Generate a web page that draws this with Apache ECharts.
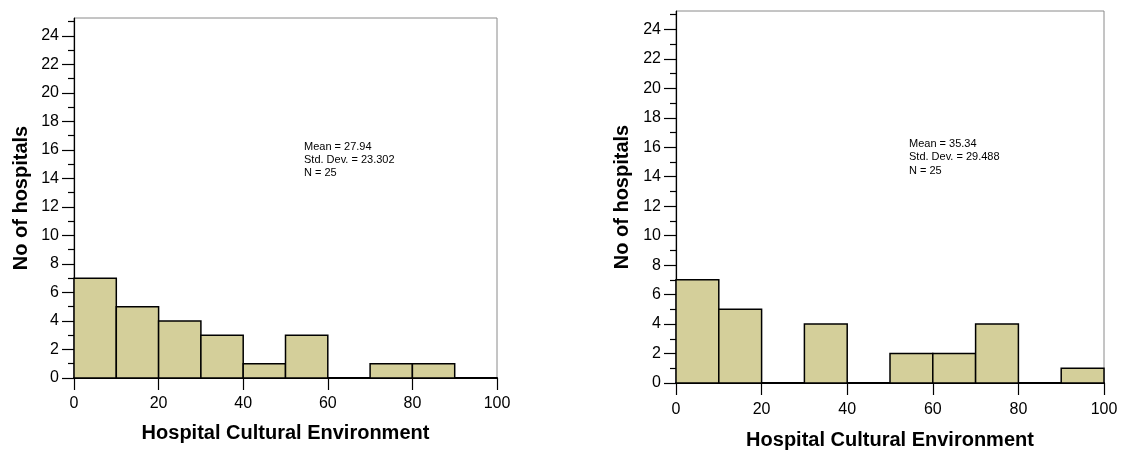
<!DOCTYPE html>
<html>
<head>
<meta charset="utf-8">
<script src="https://cdn.jsdelivr.net/npm/echarts@6/dist/echarts.min.js"></script>
<style>
html,body{margin:0;padding:0;background:#fff;}
#c{width:1134px;height:450px;}
</style>
</head>
<body>
<div id="c"></div>
<script>
// ---- data ----
const binEdges = [0, 10, 20, 30, 40, 50, 60, 70, 80, 90, 100];
const countsLeft = [7, 5, 4, 3, 1, 3, 0, 1, 1, 0];
const countsRight = [7, 5, 0, 4, 0, 2, 2, 4, 0, 1];
const statsLeft = ['Mean = 27.94', 'Std. Dev. = 23.302', 'N = 25'];
const statsRight = ['Mean = 35.34', 'Std. Dev. = 29.488', 'N = 25'];
const xTicks = [0, 20, 40, 60, 80, 100];
const yMajorTicks = [0, 2, 4, 6, 8, 10, 12, 14, 16, 18, 20, 22, 24];
const yMinorTicks = [1, 3, 5, 7, 9, 11, 13, 15, 17, 19, 21, 23, 25];
const xTitle = 'Hospital Cultural Environment';
const yTitle = 'No of hospitals';

const FONT = '"Liberation Sans", Arial, sans-serif';
const FILL = '#d4cf9a';

function binsData(counts) {
  return counts.map((c, i) => [binEdges[i], binEdges[i + 1], c]);
}

function renderBin(params, api) {
  const lo = api.value(0), hi = api.value(1), c = api.value(2);
  if (!c) return null;
  const p1 = api.coord([lo, c]);
  const p2 = api.coord([hi, 0]);
  return {
    type: 'rect',
    shape: { x: p1[0], y: p1[1], width: p2[0] - p1[0], height: p2[1] - p1[1] },
    style: { fill: FILL, stroke: '#000', lineWidth: 1.5 }
  };
}

const grids = [
  { left: 74, right: 637, top: 18, bottom: 72 },
  { left: 676, right: 30, top: 11, bottom: 67 }
];

function xAxisFor(gi, labelMargin, nameGap) {
  return {
    type: 'value', gridIndex: gi, min: 0, max: 100, interval: 20,
    name: xTitle, nameLocation: 'middle', nameGap: nameGap,
    nameTextStyle: { fontFamily: FONT, fontSize: 20, fontWeight: 'bold', color: '#000' },
    axisLine: { show: true, onZero: false, lineStyle: { color: '#000', width: 2 } },
    axisTick: { show: true, length: 12, lineStyle: { color: '#000', width: 1.2 }, customValues: xTicks },
    axisLabel: { margin: labelMargin, fontFamily: FONT, fontSize: 16, color: '#000', customValues: xTicks },
    splitLine: { show: false }
  };
}

function yAxesFor(gi, nameGap) {
  return [
    {
      type: 'value', gridIndex: gi, min: 0, max: 25.25, interval: 1, position: 'left',
      name: yTitle, nameLocation: 'middle', nameGap: nameGap,
      nameTextStyle: { fontFamily: FONT, fontSize: 20, fontWeight: 'bold', color: '#000' },
      axisLine: { show: true, lineStyle: { color: '#000', width: 1.2 } },
      axisTick: { show: true, length: 12, lineStyle: { color: '#000', width: 1.2 }, customValues: yMajorTicks },
      axisLabel: { margin: 15, fontFamily: FONT, fontSize: 16, color: '#000', customValues: yMajorTicks },
      splitLine: { show: false }
    },
    {
      type: 'value', gridIndex: gi, min: 0, max: 25.25, interval: 1, position: 'left',
      axisLine: { show: false },
      axisTick: { show: true, length: 6, lineStyle: { color: '#000', width: 1.2 }, customValues: yMinorTicks },
      axisLabel: { show: false },
      splitLine: { show: false }
    }
  ];
}

const chart = echarts.init(document.getElementById('c'), null, { renderer: 'canvas' });

const ya = yAxesFor(0, 43);
const yb = yAxesFor(1, 44);

chart.setOption({
  animation: false,
  backgroundColor: '#fff',
  grid: grids.map(g => Object.assign({ show: true, borderColor: '#8a8a8a', borderWidth: 1, backgroundColor: 'transparent', containLabel: false, outerBoundsMode: 'none' }, g)),
  xAxis: [xAxisFor(0, 18, 45), xAxisFor(1, 19, 47)],
  yAxis: [ya[0], ya[1], yb[0], yb[1]],
  series: [
    { type: 'custom', xAxisIndex: 0, yAxisIndex: 0, renderItem: renderBin, data: binsData(countsLeft), encode: { x: [0, 1], y: 2 }, z: 1 },
    { type: 'custom', xAxisIndex: 1, yAxisIndex: 2, renderItem: renderBin, data: binsData(countsRight), encode: { x: [0, 1], y: 2 }, z: 1 }
  ],
  graphic: [
    { type: 'text', left: 304, top: 140, style: { text: statsLeft.join('\n'), font: '11px ' + FONT, lineHeight: 13, fill: '#000' } },
    { type: 'text', left: 909, top: 137, style: { text: statsRight.join('\n'), font: '11px ' + FONT, lineHeight: 13.5, fill: '#000' } }
  ]
});
</script>
</body>
</html>
